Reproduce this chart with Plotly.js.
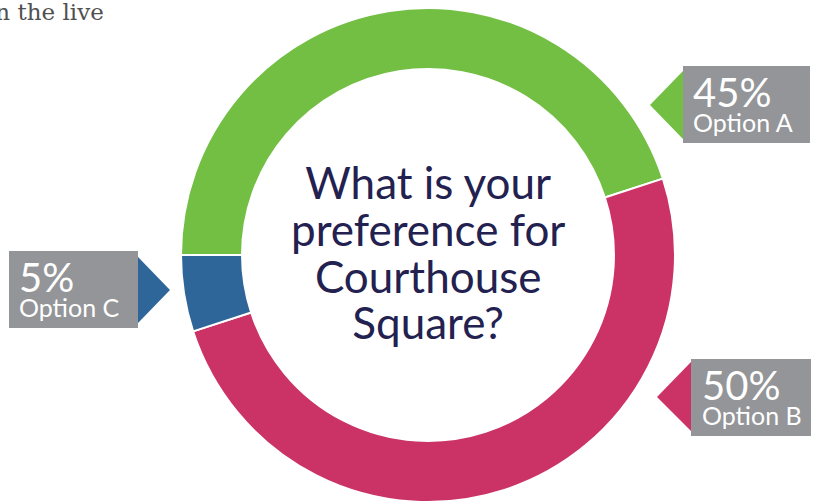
<!DOCTYPE html>
<html>
<head>
<meta charset="utf-8">
<script src="https://cdn.plot.ly/plotly-3.0.1.min.js"></script>
<style>
  html, body { margin: 0; padding: 0; overflow: hidden; background: #fff; }
  #chart { width: 817px; height: 520px; }
</style>
</head>
<body>
<div id="chart"></div>
<script>
// survey answers
var labels = ['Option A', 'Option B', 'Option C'];
var values = [45, 50, 5];
var colors = ['#72bf44', '#cb3366', '#2f6699'];
var questionLines = ['What is your', 'preference for', 'Courthouse', 'Square?'];

var W = 817, H = 520;
function px(x) { return x / W; }
function py(y) { return (H - y) / H; }

var donut = {
  type: 'pie',
  labels: labels,
  values: values,
  sort: false,
  direction: 'clockwise',
  rotation: 270,
  hole: 0.753,
  textinfo: 'none',
  hoverinfo: 'label+percent',
  marker: { colors: colors, line: { color: '#ffffff', width: 2 } },
  domain: { x: [px(181), px(675)], y: [py(502), py(8)] },
  showlegend: false
};

// callout boxes: box rect, pointer triangle, text left edge
var callouts = [
  { box: [683, 66, 810, 143], tri: [[683, 71], [650, 105], [683, 139]], tx: 691 },
  { box: [691, 359, 811, 436], tri: [[691, 362], [657, 397], [691, 431]], tx: 700 },
  { box: [9, 251, 138, 328], tri: [[138, 257], [170, 290], [138, 323]], tx: 17 }
];

var shapes = [];
var annotations = [];
callouts.forEach(function (c, i) {
  shapes.push({
    type: 'rect', xref: 'paper', yref: 'paper',
    x0: px(c.box[0]), x1: px(c.box[2]), y0: py(c.box[3]), y1: py(c.box[1]),
    fillcolor: '#939598', line: { width: 0 }
  });
  var p = c.tri.map(function (pt, k) {
    return (k === 0 ? 'M' : 'L') + px(pt[0]) + ',' + py(pt[1]);
  }).join(' ') + ' Z';
  shapes.push({ type: 'path', xref: 'paper', yref: 'paper', path: p, fillcolor: colors[i], line: { width: 0 } });
  annotations.push({
    xref: 'paper', yref: 'paper', x: px(c.tx), y: py((c.box[1] + c.box[3]) / 2 - 2),
    xanchor: 'left', yanchor: 'middle', align: 'left', showarrow: false,
    text: '<span style="font-size:40px">' + values[i] + '%</span><br><span style="font-size:25px">' + labels[i] + '</span>',
    font: { family: 'Lato, sans-serif', size: 19, color: '#ffffff' }
  });
});

// question in the hole
annotations.push({
  xref: 'paper', yref: 'paper', x: px(428), y: py(252),
  xanchor: 'center', yanchor: 'middle', align: 'center', showarrow: false,
  text: questionLines.map(function (l) { return '<span style="font-size:44px">' + l + '</span>'; }).join('<br>'),
  font: { family: 'Lato, sans-serif', size: 36, color: '#23214f' }
});

// leftover of the page text above the chart
annotations.push({
  xref: 'paper', yref: 'paper', x: px(106), y: py(27),
  xanchor: 'right', yanchor: 'bottom', showarrow: false,
  text: 'in the live',
  font: { family: 'DejaVu Serif, serif', size: 23, color: '#505050' }
});

var layout = {
  width: W, height: H,
  margin: { l: 0, r: 0, t: 0, b: 0 },
  paper_bgcolor: '#ffffff',
  shapes: shapes,
  annotations: annotations
};

Plotly.newPlot('chart', [donut], layout, { displayModeBar: false, staticPlot: true });
</script>
</body>
</html>
